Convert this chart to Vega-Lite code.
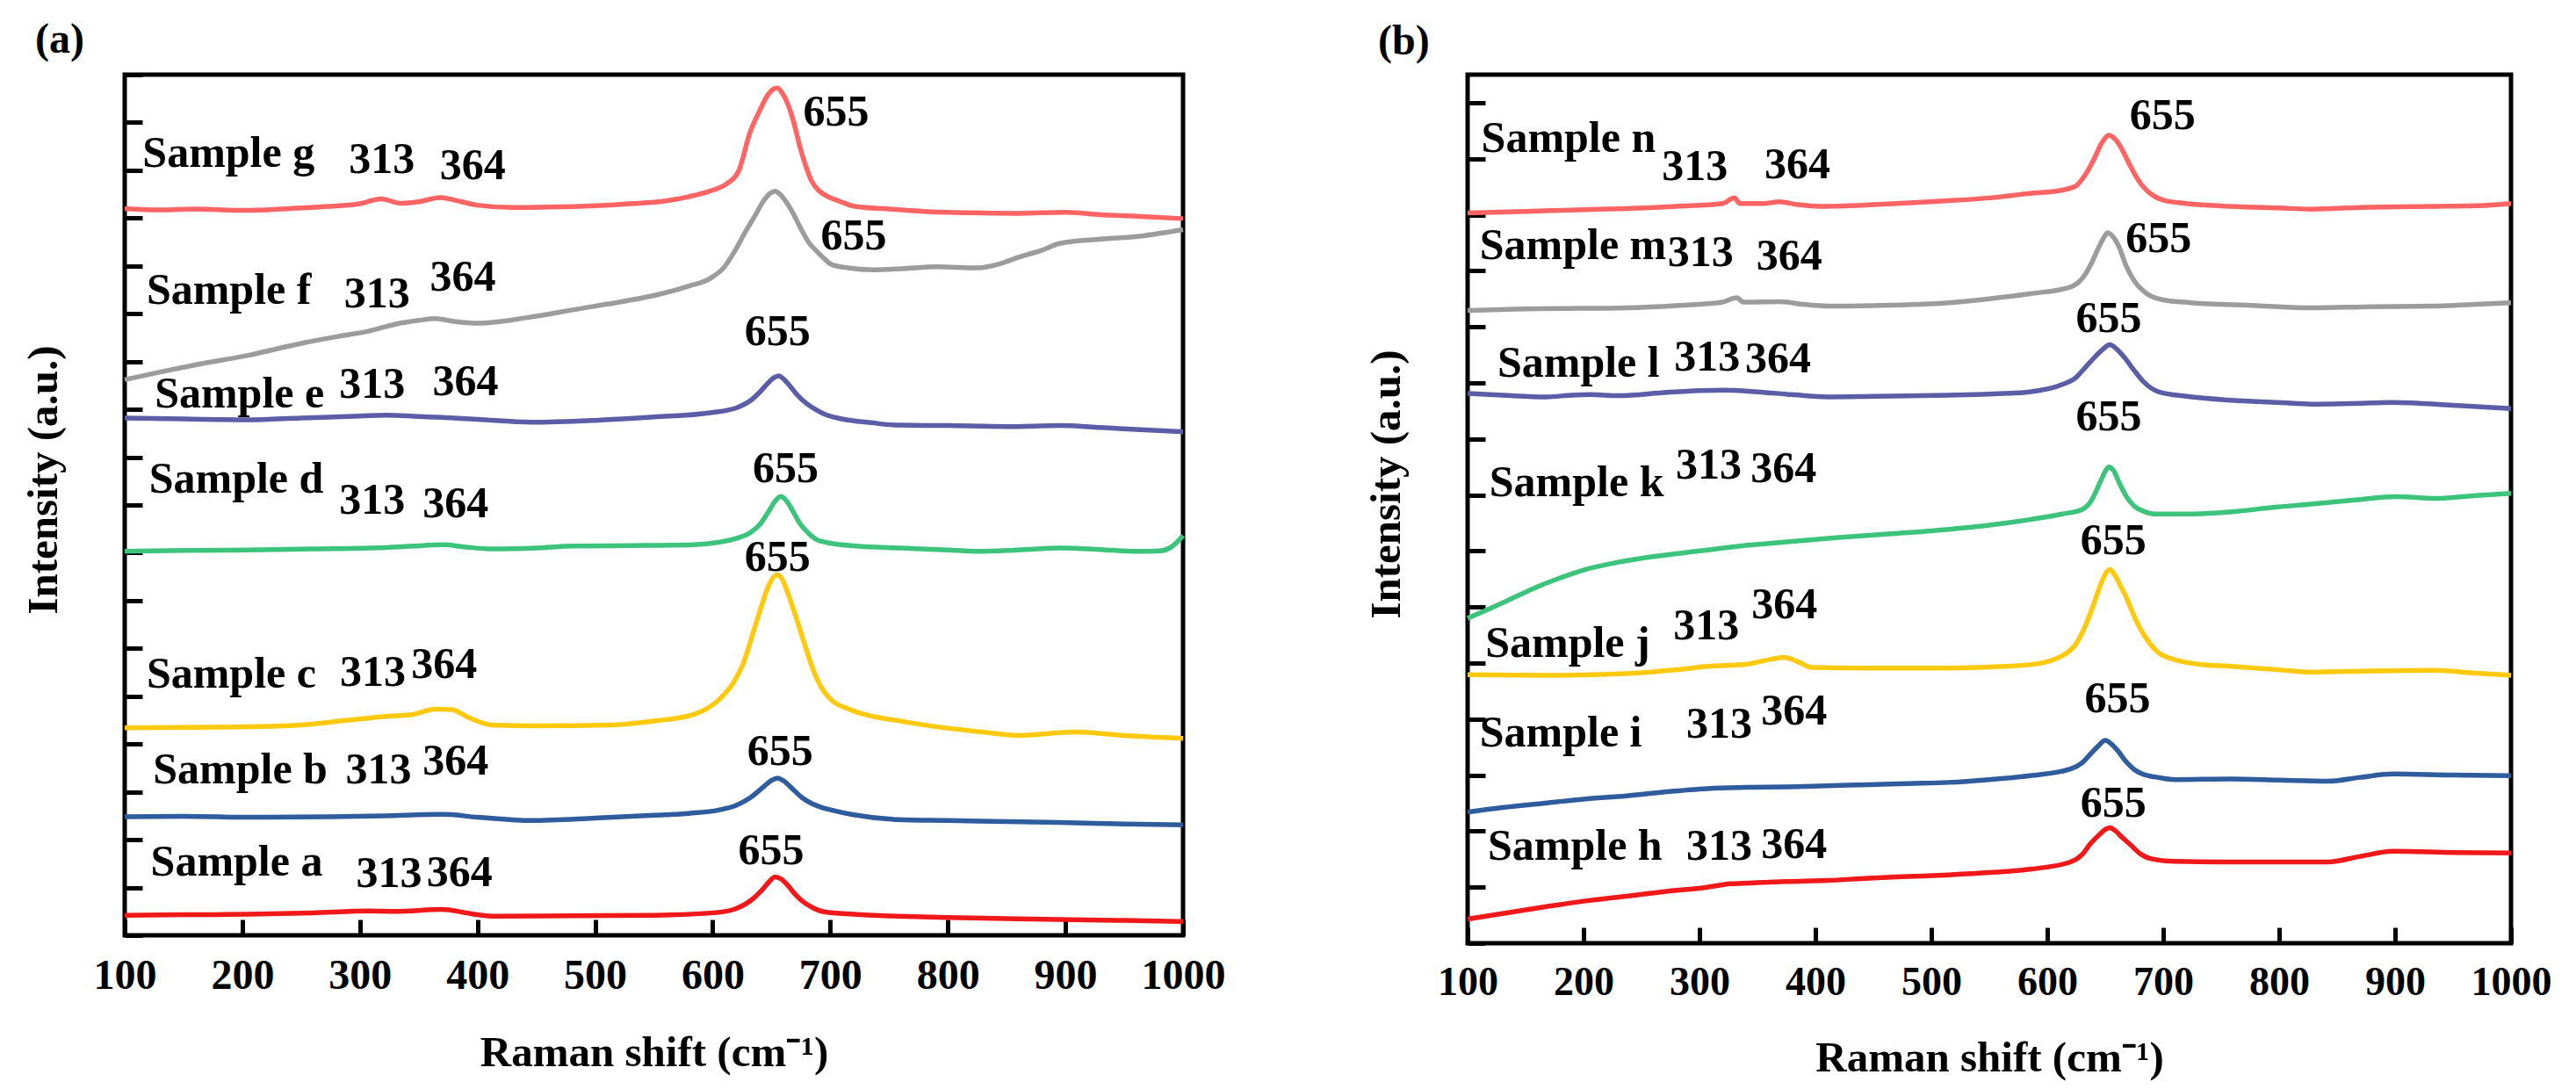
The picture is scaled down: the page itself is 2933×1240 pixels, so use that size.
{
"$schema": "https://vega.github.io/schema/vega-lite/v6.json",
"background": "white",
"padding": {"left": 23, "top": 19, "right": 0, "bottom": 0},
"spacing": 154,
"config": {
  "view": {"stroke": "black", "strokeWidth": 5},
  "font": "Liberation Serif",
  "axisX": {"domain": false, "grid": false, "tickSize": -18, "tickWidth": 5, "tickColor": "black", "labelFont": "Liberation Serif", "labelFontWeight": "bold", "labelColor": "black", "labelPadding": 40, "labelFlush": false, "labelOverlap": false, "format": "d", "titleFont": "Liberation Serif", "titleFontWeight": "bold", "titleFontSize": 49, "titleColor": "black", "titlePadding": 39},
  "axisY": {"domain": false, "grid": false, "labels": false, "tickSize": -20, "tickWidth": 5, "tickColor": "black", "titleFont": "Liberation Serif", "titleFontWeight": "bold", "titleFontSize": 49, "titleColor": "black", "titlePadding": 65},
  "title": {"font": "Liberation Serif", "fontWeight": "bold", "fontSize": 48, "color": "black", "anchor": "start", "frame": "group", "dx": -102, "offset": 13}
},
"datasets": {
"curves": [
{"p":"a","s":"Sample g","x":100,"y":15.20},{"p":"a","s":"Sample g","x":130,"y":15.17},{"p":"a","s":"Sample g","x":160,"y":15.19},{"p":"a","s":"Sample g","x":200,"y":15.16},{"p":"a","s":"Sample g","x":240,"y":15.20},{"p":"a","s":"Sample g","x":270,"y":15.24},{"p":"a","s":"Sample g","x":300,"y":15.30},{"p":"a","s":"Sample g","x":318,"y":15.40},{"p":"a","s":"Sample g","x":335,"y":15.31},{"p":"a","s":"Sample g","x":350,"y":15.34},{"p":"a","s":"Sample g","x":368,"y":15.43},{"p":"a","s":"Sample g","x":385,"y":15.35},{"p":"a","s":"Sample g","x":400,"y":15.27},{"p":"a","s":"Sample g","x":430,"y":15.22},{"p":"a","s":"Sample g","x":460,"y":15.23},{"p":"a","s":"Sample g","x":500,"y":15.26},{"p":"a","s":"Sample g","x":530,"y":15.30},{"p":"a","s":"Sample g","x":560,"y":15.36},{"p":"a","s":"Sample g","x":580,"y":15.45},{"p":"a","s":"Sample g","x":598,"y":15.57},{"p":"a","s":"Sample g","x":612,"y":15.72},{"p":"a","s":"Sample g","x":622,"y":15.98},{"p":"a","s":"Sample g","x":632,"y":16.81},{"p":"a","s":"Sample g","x":640,"y":17.25},{"p":"a","s":"Sample g","x":646,"y":17.54},{"p":"a","s":"Sample g","x":651,"y":17.69},{"p":"a","s":"Sample g","x":655,"y":17.72},{"p":"a","s":"Sample g","x":659,"y":17.62},{"p":"a","s":"Sample g","x":664,"y":17.38},{"p":"a","s":"Sample g","x":669,"y":17.00},{"p":"a","s":"Sample g","x":674,"y":16.51},{"p":"a","s":"Sample g","x":679,"y":16.10},{"p":"a","s":"Sample g","x":684,"y":15.78},{"p":"a","s":"Sample g","x":690,"y":15.58},{"p":"a","s":"Sample g","x":695,"y":15.49},{"p":"a","s":"Sample g","x":708,"y":15.35},{"p":"a","s":"Sample g","x":722,"y":15.24},{"p":"a","s":"Sample g","x":750,"y":15.19},{"p":"a","s":"Sample g","x":780,"y":15.14},{"p":"a","s":"Sample g","x":820,"y":15.11},{"p":"a","s":"Sample g","x":860,"y":15.10},{"p":"a","s":"Sample g","x":900,"y":15.12},{"p":"a","s":"Sample g","x":930,"y":15.07},{"p":"a","s":"Sample g","x":960,"y":15.04},{"p":"a","s":"Sample g","x":1000,"y":14.99},
{"p":"a","s":"Sample f","x":100,"y":11.62},{"p":"a","s":"Sample f","x":130,"y":11.78},{"p":"a","s":"Sample f","x":160,"y":11.93},{"p":"a","s":"Sample f","x":205,"y":12.13},{"p":"a","s":"Sample f","x":250,"y":12.38},{"p":"a","s":"Sample f","x":280,"y":12.52},{"p":"a","s":"Sample f","x":308,"y":12.64},{"p":"a","s":"Sample f","x":330,"y":12.78},{"p":"a","s":"Sample f","x":350,"y":12.86},{"p":"a","s":"Sample f","x":364,"y":12.90},{"p":"a","s":"Sample f","x":380,"y":12.84},{"p":"a","s":"Sample f","x":400,"y":12.80},{"p":"a","s":"Sample f","x":420,"y":12.84},{"p":"a","s":"Sample f","x":450,"y":12.95},{"p":"a","s":"Sample f","x":481,"y":13.08},{"p":"a","s":"Sample f","x":510,"y":13.20},{"p":"a","s":"Sample f","x":550,"y":13.38},{"p":"a","s":"Sample f","x":580,"y":13.58},{"p":"a","s":"Sample f","x":598,"y":13.74},{"p":"a","s":"Sample f","x":610,"y":13.98},{"p":"a","s":"Sample f","x":619,"y":14.32},{"p":"a","s":"Sample f","x":628,"y":14.72},{"p":"a","s":"Sample f","x":636,"y":15.05},{"p":"a","s":"Sample f","x":643,"y":15.35},{"p":"a","s":"Sample f","x":649,"y":15.52},{"p":"a","s":"Sample f","x":653,"y":15.56},{"p":"a","s":"Sample f","x":658,"y":15.48},{"p":"a","s":"Sample f","x":663,"y":15.32},{"p":"a","s":"Sample f","x":668,"y":15.12},{"p":"a","s":"Sample f","x":675,"y":14.78},{"p":"a","s":"Sample f","x":682,"y":14.48},{"p":"a","s":"Sample f","x":688,"y":14.32},{"p":"a","s":"Sample f","x":695,"y":14.15},{"p":"a","s":"Sample f","x":701,"y":14.03},{"p":"a","s":"Sample f","x":715,"y":13.96},{"p":"a","s":"Sample f","x":736,"y":13.92},{"p":"a","s":"Sample f","x":760,"y":13.94},{"p":"a","s":"Sample f","x":791,"y":13.98},{"p":"a","s":"Sample f","x":826,"y":13.96},{"p":"a","s":"Sample f","x":845,"y":14.05},{"p":"a","s":"Sample f","x":860,"y":14.18},{"p":"a","s":"Sample f","x":880,"y":14.33},{"p":"a","s":"Sample f","x":895,"y":14.47},{"p":"a","s":"Sample f","x":930,"y":14.56},{"p":"a","s":"Sample f","x":963,"y":14.62},{"p":"a","s":"Sample f","x":985,"y":14.70},{"p":"a","s":"Sample f","x":1000,"y":14.76},
{"p":"a","s":"Sample e","x":100,"y":10.82},{"p":"a","s":"Sample e","x":150,"y":10.80},{"p":"a","s":"Sample e","x":205,"y":10.78},{"p":"a","s":"Sample e","x":250,"y":10.82},{"p":"a","s":"Sample e","x":300,"y":10.86},{"p":"a","s":"Sample e","x":322,"y":10.88},{"p":"a","s":"Sample e","x":350,"y":10.85},{"p":"a","s":"Sample e","x":370,"y":10.83},{"p":"a","s":"Sample e","x":400,"y":10.79},{"p":"a","s":"Sample e","x":446,"y":10.73},{"p":"a","s":"Sample e","x":500,"y":10.77},{"p":"a","s":"Sample e","x":550,"y":10.84},{"p":"a","s":"Sample e","x":598,"y":10.93},{"p":"a","s":"Sample e","x":620,"y":11.03},{"p":"a","s":"Sample e","x":632,"y":11.18},{"p":"a","s":"Sample e","x":640,"y":11.36},{"p":"a","s":"Sample e","x":647,"y":11.55},{"p":"a","s":"Sample e","x":652,"y":11.66},{"p":"a","s":"Sample e","x":656,"y":11.70},{"p":"a","s":"Sample e","x":661,"y":11.62},{"p":"a","s":"Sample e","x":666,"y":11.48},{"p":"a","s":"Sample e","x":672,"y":11.30},{"p":"a","s":"Sample e","x":680,"y":11.12},{"p":"a","s":"Sample e","x":688,"y":10.99},{"p":"a","s":"Sample e","x":695,"y":10.90},{"p":"a","s":"Sample e","x":710,"y":10.80},{"p":"a","s":"Sample e","x":735,"y":10.72},{"p":"a","s":"Sample e","x":757,"y":10.67},{"p":"a","s":"Sample e","x":800,"y":10.66},{"p":"a","s":"Sample e","x":850,"y":10.64},{"p":"a","s":"Sample e","x":895,"y":10.66},{"p":"a","s":"Sample e","x":930,"y":10.62},{"p":"a","s":"Sample e","x":960,"y":10.58},{"p":"a","s":"Sample e","x":1000,"y":10.53},
{"p":"a","s":"Sample d","x":100,"y":8.03},{"p":"a","s":"Sample d","x":150,"y":8.05},{"p":"a","s":"Sample d","x":205,"y":8.06},{"p":"a","s":"Sample d","x":260,"y":8.08},{"p":"a","s":"Sample d","x":322,"y":8.11},{"p":"a","s":"Sample d","x":345,"y":8.14},{"p":"a","s":"Sample d","x":370,"y":8.17},{"p":"a","s":"Sample d","x":390,"y":8.12},{"p":"a","s":"Sample d","x":412,"y":8.08},{"p":"a","s":"Sample d","x":450,"y":8.10},{"p":"a","s":"Sample d","x":481,"y":8.14},{"p":"a","s":"Sample d","x":530,"y":8.15},{"p":"a","s":"Sample d","x":584,"y":8.17},{"p":"a","s":"Sample d","x":605,"y":8.22},{"p":"a","s":"Sample d","x":620,"y":8.30},{"p":"a","s":"Sample d","x":632,"y":8.42},{"p":"a","s":"Sample d","x":641,"y":8.62},{"p":"a","s":"Sample d","x":648,"y":8.88},{"p":"a","s":"Sample d","x":653,"y":9.08},{"p":"a","s":"Sample d","x":658,"y":9.18},{"p":"a","s":"Sample d","x":663,"y":9.08},{"p":"a","s":"Sample d","x":668,"y":8.88},{"p":"a","s":"Sample d","x":674,"y":8.62},{"p":"a","s":"Sample d","x":681,"y":8.42},{"p":"a","s":"Sample d","x":688,"y":8.28},{"p":"a","s":"Sample d","x":700,"y":8.20},{"p":"a","s":"Sample d","x":722,"y":8.14},{"p":"a","s":"Sample d","x":760,"y":8.10},{"p":"a","s":"Sample d","x":800,"y":8.06},{"p":"a","s":"Sample d","x":826,"y":8.03},{"p":"a","s":"Sample d","x":860,"y":8.06},{"p":"a","s":"Sample d","x":895,"y":8.10},{"p":"a","s":"Sample d","x":930,"y":8.07},{"p":"a","s":"Sample d","x":960,"y":8.03},{"p":"a","s":"Sample d","x":980,"y":8.04},{"p":"a","s":"Sample d","x":990,"y":8.12},{"p":"a","s":"Sample d","x":1000,"y":8.36},
{"p":"a","s":"Sample c","x":100,"y":4.34},{"p":"a","s":"Sample c","x":150,"y":4.35},{"p":"a","s":"Sample c","x":205,"y":4.36},{"p":"a","s":"Sample c","x":250,"y":4.40},{"p":"a","s":"Sample c","x":290,"y":4.50},{"p":"a","s":"Sample c","x":322,"y":4.58},{"p":"a","s":"Sample c","x":345,"y":4.62},{"p":"a","s":"Sample c","x":364,"y":4.73},{"p":"a","s":"Sample c","x":378,"y":4.72},{"p":"a","s":"Sample c","x":392,"y":4.56},{"p":"a","s":"Sample c","x":412,"y":4.40},{"p":"a","s":"Sample c","x":450,"y":4.38},{"p":"a","s":"Sample c","x":515,"y":4.40},{"p":"a","s":"Sample c","x":550,"y":4.48},{"p":"a","s":"Sample c","x":584,"y":4.62},{"p":"a","s":"Sample c","x":605,"y":4.92},{"p":"a","s":"Sample c","x":618,"y":5.30},{"p":"a","s":"Sample c","x":627,"y":5.75},{"p":"a","s":"Sample c","x":634,"y":6.30},{"p":"a","s":"Sample c","x":641,"y":6.85},{"p":"a","s":"Sample c","x":647,"y":7.28},{"p":"a","s":"Sample c","x":652,"y":7.50},{"p":"a","s":"Sample c","x":655,"y":7.54},{"p":"a","s":"Sample c","x":659,"y":7.45},{"p":"a","s":"Sample c","x":664,"y":7.15},{"p":"a","s":"Sample c","x":670,"y":6.72},{"p":"a","s":"Sample c","x":677,"y":6.18},{"p":"a","s":"Sample c","x":684,"y":5.65},{"p":"a","s":"Sample c","x":692,"y":5.20},{"p":"a","s":"Sample c","x":701,"y":4.92},{"p":"a","s":"Sample c","x":715,"y":4.74},{"p":"a","s":"Sample c","x":729,"y":4.62},{"p":"a","s":"Sample c","x":760,"y":4.48},{"p":"a","s":"Sample c","x":791,"y":4.36},{"p":"a","s":"Sample c","x":830,"y":4.25},{"p":"a","s":"Sample c","x":860,"y":4.18},{"p":"a","s":"Sample c","x":908,"y":4.25},{"p":"a","s":"Sample c","x":950,"y":4.18},{"p":"a","s":"Sample c","x":1000,"y":4.12},
{"p":"a","s":"Sample b","x":100,"y":2.48},{"p":"a","s":"Sample b","x":150,"y":2.49},{"p":"a","s":"Sample b","x":205,"y":2.47},{"p":"a","s":"Sample b","x":274,"y":2.48},{"p":"a","s":"Sample b","x":320,"y":2.50},{"p":"a","s":"Sample b","x":370,"y":2.53},{"p":"a","s":"Sample b","x":400,"y":2.47},{"p":"a","s":"Sample b","x":446,"y":2.40},{"p":"a","s":"Sample b","x":500,"y":2.45},{"p":"a","s":"Sample b","x":550,"y":2.51},{"p":"a","s":"Sample b","x":580,"y":2.55},{"p":"a","s":"Sample b","x":605,"y":2.62},{"p":"a","s":"Sample b","x":620,"y":2.72},{"p":"a","s":"Sample b","x":632,"y":2.88},{"p":"a","s":"Sample b","x":642,"y":3.08},{"p":"a","s":"Sample b","x":650,"y":3.24},{"p":"a","s":"Sample b","x":655,"y":3.29},{"p":"a","s":"Sample b","x":661,"y":3.22},{"p":"a","s":"Sample b","x":668,"y":3.06},{"p":"a","s":"Sample b","x":676,"y":2.88},{"p":"a","s":"Sample b","x":684,"y":2.76},{"p":"a","s":"Sample b","x":692,"y":2.68},{"p":"a","s":"Sample b","x":701,"y":2.62},{"p":"a","s":"Sample b","x":720,"y":2.52},{"p":"a","s":"Sample b","x":757,"y":2.42},{"p":"a","s":"Sample b","x":800,"y":2.40},{"p":"a","s":"Sample b","x":850,"y":2.38},{"p":"a","s":"Sample b","x":895,"y":2.36},{"p":"a","s":"Sample b","x":950,"y":2.33},{"p":"a","s":"Sample b","x":1000,"y":2.31},
{"p":"a","s":"Sample a","x":100,"y":0.42},{"p":"a","s":"Sample a","x":150,"y":0.43},{"p":"a","s":"Sample a","x":205,"y":0.44},{"p":"a","s":"Sample a","x":260,"y":0.47},{"p":"a","s":"Sample a","x":308,"y":0.51},{"p":"a","s":"Sample a","x":330,"y":0.50},{"p":"a","s":"Sample a","x":370,"y":0.54},{"p":"a","s":"Sample a","x":395,"y":0.45},{"p":"a","s":"Sample a","x":412,"y":0.40},{"p":"a","s":"Sample a","x":480,"y":0.41},{"p":"a","s":"Sample a","x":550,"y":0.42},{"p":"a","s":"Sample a","x":605,"y":0.48},{"p":"a","s":"Sample a","x":620,"y":0.56},{"p":"a","s":"Sample a","x":632,"y":0.72},{"p":"a","s":"Sample a","x":642,"y":0.95},{"p":"a","s":"Sample a","x":648,"y":1.12},{"p":"a","s":"Sample a","x":653,"y":1.22},{"p":"a","s":"Sample a","x":658,"y":1.18},{"p":"a","s":"Sample a","x":664,"y":1.04},{"p":"a","s":"Sample a","x":670,"y":0.86},{"p":"a","s":"Sample a","x":677,"y":0.70},{"p":"a","s":"Sample a","x":685,"y":0.58},{"p":"a","s":"Sample a","x":695,"y":0.49},{"p":"a","s":"Sample a","x":720,"y":0.44},{"p":"a","s":"Sample a","x":757,"y":0.40},{"p":"a","s":"Sample a","x":800,"y":0.37},{"p":"a","s":"Sample a","x":850,"y":0.35},{"p":"a","s":"Sample a","x":895,"y":0.33},{"p":"a","s":"Sample a","x":950,"y":0.31},{"p":"a","s":"Sample a","x":1000,"y":0.29},
{"p":"b","s":"Sample n","x":100,"y":13.03},{"p":"b","s":"Sample n","x":150,"y":13.06},{"p":"b","s":"Sample n","x":200,"y":13.09},{"p":"b","s":"Sample n","x":237,"y":13.11},{"p":"b","s":"Sample n","x":280,"y":13.15},{"p":"b","s":"Sample n","x":320,"y":13.20},{"p":"b","s":"Sample n","x":330,"y":13.30},{"p":"b","s":"Sample n","x":335,"y":13.20},{"p":"b","s":"Sample n","x":355,"y":13.20},{"p":"b","s":"Sample n","x":369,"y":13.23},{"p":"b","s":"Sample n","x":385,"y":13.18},{"p":"b","s":"Sample n","x":404,"y":13.15},{"p":"b","s":"Sample n","x":440,"y":13.17},{"p":"b","s":"Sample n","x":480,"y":13.21},{"p":"b","s":"Sample n","x":515,"y":13.25},{"p":"b","s":"Sample n","x":550,"y":13.30},{"p":"b","s":"Sample n","x":585,"y":13.38},{"p":"b","s":"Sample n","x":613,"y":13.44},{"p":"b","s":"Sample n","x":625,"y":13.52},{"p":"b","s":"Sample n","x":633,"y":13.72},{"p":"b","s":"Sample n","x":640,"y":13.98},{"p":"b","s":"Sample n","x":647,"y":14.28},{"p":"b","s":"Sample n","x":653,"y":14.42},{"p":"b","s":"Sample n","x":658,"y":14.36},{"p":"b","s":"Sample n","x":663,"y":14.22},{"p":"b","s":"Sample n","x":668,"y":14.02},{"p":"b","s":"Sample n","x":675,"y":13.74},{"p":"b","s":"Sample n","x":682,"y":13.52},{"p":"b","s":"Sample n","x":690,"y":13.36},{"p":"b","s":"Sample n","x":700,"y":13.26},{"p":"b","s":"Sample n","x":720,"y":13.20},{"p":"b","s":"Sample n","x":759,"y":13.15},{"p":"b","s":"Sample n","x":800,"y":13.12},{"p":"b","s":"Sample n","x":828,"y":13.10},{"p":"b","s":"Sample n","x":870,"y":13.13},{"p":"b","s":"Sample n","x":932,"y":13.15},{"p":"b","s":"Sample n","x":970,"y":13.16},{"p":"b","s":"Sample n","x":1000,"y":13.20},
{"p":"b","s":"Sample m","x":100,"y":11.29},{"p":"b","s":"Sample m","x":150,"y":11.32},{"p":"b","s":"Sample m","x":200,"y":11.33},{"p":"b","s":"Sample m","x":237,"y":11.34},{"p":"b","s":"Sample m","x":280,"y":11.38},{"p":"b","s":"Sample m","x":320,"y":11.44},{"p":"b","s":"Sample m","x":332,"y":11.52},{"p":"b","s":"Sample m","x":338,"y":11.44},{"p":"b","s":"Sample m","x":369,"y":11.45},{"p":"b","s":"Sample m","x":390,"y":11.40},{"p":"b","s":"Sample m","x":411,"y":11.37},{"p":"b","s":"Sample m","x":450,"y":11.38},{"p":"b","s":"Sample m","x":515,"y":11.43},{"p":"b","s":"Sample m","x":550,"y":11.50},{"p":"b","s":"Sample m","x":585,"y":11.59},{"p":"b","s":"Sample m","x":620,"y":11.71},{"p":"b","s":"Sample m","x":630,"y":11.86},{"p":"b","s":"Sample m","x":637,"y":12.09},{"p":"b","s":"Sample m","x":644,"y":12.40},{"p":"b","s":"Sample m","x":649,"y":12.60},{"p":"b","s":"Sample m","x":652,"y":12.68},{"p":"b","s":"Sample m","x":657,"y":12.60},{"p":"b","s":"Sample m","x":662,"y":12.42},{"p":"b","s":"Sample m","x":668,"y":12.09},{"p":"b","s":"Sample m","x":675,"y":11.82},{"p":"b","s":"Sample m","x":686,"y":11.59},{"p":"b","s":"Sample m","x":700,"y":11.48},{"p":"b","s":"Sample m","x":724,"y":11.43},{"p":"b","s":"Sample m","x":780,"y":11.38},{"p":"b","s":"Sample m","x":828,"y":11.34},{"p":"b","s":"Sample m","x":880,"y":11.36},{"p":"b","s":"Sample m","x":932,"y":11.37},{"p":"b","s":"Sample m","x":970,"y":11.40},{"p":"b","s":"Sample m","x":1000,"y":11.43},
{"p":"b","s":"Sample l","x":100,"y":9.81},{"p":"b","s":"Sample l","x":130,"y":9.78},{"p":"b","s":"Sample l","x":168,"y":9.75},{"p":"b","s":"Sample l","x":190,"y":9.78},{"p":"b","s":"Sample l","x":206,"y":9.79},{"p":"b","s":"Sample l","x":230,"y":9.77},{"p":"b","s":"Sample l","x":272,"y":9.83},{"p":"b","s":"Sample l","x":300,"y":9.86},{"p":"b","s":"Sample l","x":320,"y":9.87},{"p":"b","s":"Sample l","x":350,"y":9.84},{"p":"b","s":"Sample l","x":380,"y":9.79},{"p":"b","s":"Sample l","x":411,"y":9.75},{"p":"b","s":"Sample l","x":450,"y":9.76},{"p":"b","s":"Sample l","x":515,"y":9.78},{"p":"b","s":"Sample l","x":550,"y":9.80},{"p":"b","s":"Sample l","x":585,"y":9.84},{"p":"b","s":"Sample l","x":613,"y":9.97},{"p":"b","s":"Sample l","x":625,"y":10.10},{"p":"b","s":"Sample l","x":633,"y":10.28},{"p":"b","s":"Sample l","x":641,"y":10.46},{"p":"b","s":"Sample l","x":648,"y":10.60},{"p":"b","s":"Sample l","x":654,"y":10.68},{"p":"b","s":"Sample l","x":660,"y":10.60},{"p":"b","s":"Sample l","x":667,"y":10.44},{"p":"b","s":"Sample l","x":675,"y":10.22},{"p":"b","s":"Sample l","x":683,"y":10.02},{"p":"b","s":"Sample l","x":696,"y":9.84},{"p":"b","s":"Sample l","x":720,"y":9.76},{"p":"b","s":"Sample l","x":759,"y":9.69},{"p":"b","s":"Sample l","x":800,"y":9.65},{"p":"b","s":"Sample l","x":828,"y":9.62},{"p":"b","s":"Sample l","x":860,"y":9.63},{"p":"b","s":"Sample l","x":898,"y":9.65},{"p":"b","s":"Sample l","x":950,"y":9.60},{"p":"b","s":"Sample l","x":1000,"y":9.54},
{"p":"b","s":"Sample k","x":100,"y":5.80},{"p":"b","s":"Sample k","x":120,"y":5.98},{"p":"b","s":"Sample k","x":140,"y":6.17},{"p":"b","s":"Sample k","x":160,"y":6.36},{"p":"b","s":"Sample k","x":180,"y":6.52},{"p":"b","s":"Sample k","x":200,"y":6.66},{"p":"b","s":"Sample k","x":230,"y":6.80},{"p":"b","s":"Sample k","x":260,"y":6.90},{"p":"b","s":"Sample k","x":300,"y":7.00},{"p":"b","s":"Sample k","x":340,"y":7.10},{"p":"b","s":"Sample k","x":380,"y":7.17},{"p":"b","s":"Sample k","x":420,"y":7.24},{"p":"b","s":"Sample k","x":460,"y":7.30},{"p":"b","s":"Sample k","x":500,"y":7.36},{"p":"b","s":"Sample k","x":550,"y":7.46},{"p":"b","s":"Sample k","x":585,"y":7.56},{"p":"b","s":"Sample k","x":613,"y":7.66},{"p":"b","s":"Sample k","x":630,"y":7.74},{"p":"b","s":"Sample k","x":638,"y":7.90},{"p":"b","s":"Sample k","x":645,"y":8.20},{"p":"b","s":"Sample k","x":650,"y":8.42},{"p":"b","s":"Sample k","x":653,"y":8.50},{"p":"b","s":"Sample k","x":657,"y":8.44},{"p":"b","s":"Sample k","x":662,"y":8.22},{"p":"b","s":"Sample k","x":668,"y":7.98},{"p":"b","s":"Sample k","x":675,"y":7.80},{"p":"b","s":"Sample k","x":684,"y":7.70},{"p":"b","s":"Sample k","x":692,"y":7.66},{"p":"b","s":"Sample k","x":727,"y":7.66},{"p":"b","s":"Sample k","x":760,"y":7.70},{"p":"b","s":"Sample k","x":796,"y":7.78},{"p":"b","s":"Sample k","x":830,"y":7.84},{"p":"b","s":"Sample k","x":866,"y":7.91},{"p":"b","s":"Sample k","x":901,"y":7.97},{"p":"b","s":"Sample k","x":935,"y":7.94},{"p":"b","s":"Sample k","x":970,"y":7.99},{"p":"b","s":"Sample k","x":1000,"y":8.03},
{"p":"b","s":"Sample j","x":100,"y":4.79},{"p":"b","s":"Sample j","x":167,"y":4.78},{"p":"b","s":"Sample j","x":237,"y":4.81},{"p":"b","s":"Sample j","x":280,"y":4.88},{"p":"b","s":"Sample j","x":307,"y":4.94},{"p":"b","s":"Sample j","x":341,"y":4.98},{"p":"b","s":"Sample j","x":360,"y":5.06},{"p":"b","s":"Sample j","x":373,"y":5.10},{"p":"b","s":"Sample j","x":385,"y":5.02},{"p":"b","s":"Sample j","x":397,"y":4.92},{"p":"b","s":"Sample j","x":446,"y":4.91},{"p":"b","s":"Sample j","x":515,"y":4.91},{"p":"b","s":"Sample j","x":585,"y":4.97},{"p":"b","s":"Sample j","x":613,"y":5.13},{"p":"b","s":"Sample j","x":625,"y":5.35},{"p":"b","s":"Sample j","x":633,"y":5.67},{"p":"b","s":"Sample j","x":640,"y":6.05},{"p":"b","s":"Sample j","x":646,"y":6.40},{"p":"b","s":"Sample j","x":651,"y":6.62},{"p":"b","s":"Sample j","x":654,"y":6.67},{"p":"b","s":"Sample j","x":658,"y":6.58},{"p":"b","s":"Sample j","x":663,"y":6.38},{"p":"b","s":"Sample j","x":668,"y":6.18},{"p":"b","s":"Sample j","x":674,"y":5.88},{"p":"b","s":"Sample j","x":680,"y":5.62},{"p":"b","s":"Sample j","x":686,"y":5.42},{"p":"b","s":"Sample j","x":695,"y":5.20},{"p":"b","s":"Sample j","x":710,"y":5.06},{"p":"b","s":"Sample j","x":730,"y":4.98},{"p":"b","s":"Sample j","x":759,"y":4.94},{"p":"b","s":"Sample j","x":800,"y":4.88},{"p":"b","s":"Sample j","x":828,"y":4.84},{"p":"b","s":"Sample j","x":880,"y":4.86},{"p":"b","s":"Sample j","x":932,"y":4.87},{"p":"b","s":"Sample j","x":970,"y":4.82},{"p":"b","s":"Sample j","x":1000,"y":4.78},
{"p":"b","s":"Sample i","x":100,"y":2.34},{"p":"b","s":"Sample i","x":130,"y":2.42},{"p":"b","s":"Sample i","x":167,"y":2.50},{"p":"b","s":"Sample i","x":200,"y":2.57},{"p":"b","s":"Sample i","x":237,"y":2.63},{"p":"b","s":"Sample i","x":270,"y":2.70},{"p":"b","s":"Sample i","x":307,"y":2.76},{"p":"b","s":"Sample i","x":340,"y":2.78},{"p":"b","s":"Sample i","x":376,"y":2.79},{"p":"b","s":"Sample i","x":410,"y":2.81},{"p":"b","s":"Sample i","x":446,"y":2.83},{"p":"b","s":"Sample i","x":480,"y":2.85},{"p":"b","s":"Sample i","x":515,"y":2.87},{"p":"b","s":"Sample i","x":550,"y":2.92},{"p":"b","s":"Sample i","x":585,"y":2.99},{"p":"b","s":"Sample i","x":620,"y":3.11},{"p":"b","s":"Sample i","x":630,"y":3.22},{"p":"b","s":"Sample i","x":637,"y":3.37},{"p":"b","s":"Sample i","x":644,"y":3.52},{"p":"b","s":"Sample i","x":650,"y":3.62},{"p":"b","s":"Sample i","x":655,"y":3.56},{"p":"b","s":"Sample i","x":661,"y":3.43},{"p":"b","s":"Sample i","x":668,"y":3.24},{"p":"b","s":"Sample i","x":675,"y":3.10},{"p":"b","s":"Sample i","x":682,"y":3.02},{"p":"b","s":"Sample i","x":695,"y":2.96},{"p":"b","s":"Sample i","x":710,"y":2.92},{"p":"b","s":"Sample i","x":759,"y":2.93},{"p":"b","s":"Sample i","x":800,"y":2.91},{"p":"b","s":"Sample i","x":842,"y":2.89},{"p":"b","s":"Sample i","x":870,"y":2.96},{"p":"b","s":"Sample i","x":898,"y":3.02},{"p":"b","s":"Sample i","x":950,"y":3.00},{"p":"b","s":"Sample i","x":1000,"y":2.99},
{"p":"b","s":"Sample h","x":100,"y":0.43},{"p":"b","s":"Sample h","x":130,"y":0.53},{"p":"b","s":"Sample h","x":167,"y":0.65},{"p":"b","s":"Sample h","x":200,"y":0.75},{"p":"b","s":"Sample h","x":237,"y":0.84},{"p":"b","s":"Sample h","x":270,"y":0.92},{"p":"b","s":"Sample h","x":307,"y":1.00},{"p":"b","s":"Sample h","x":327,"y":1.06},{"p":"b","s":"Sample h","x":350,"y":1.08},{"p":"b","s":"Sample h","x":376,"y":1.10},{"p":"b","s":"Sample h","x":410,"y":1.12},{"p":"b","s":"Sample h","x":446,"y":1.16},{"p":"b","s":"Sample h","x":480,"y":1.19},{"p":"b","s":"Sample h","x":515,"y":1.22},{"p":"b","s":"Sample h","x":550,"y":1.26},{"p":"b","s":"Sample h","x":585,"y":1.32},{"p":"b","s":"Sample h","x":620,"y":1.45},{"p":"b","s":"Sample h","x":630,"y":1.58},{"p":"b","s":"Sample h","x":637,"y":1.77},{"p":"b","s":"Sample h","x":645,"y":1.94},{"p":"b","s":"Sample h","x":651,"y":2.04},{"p":"b","s":"Sample h","x":654,"y":2.06},{"p":"b","s":"Sample h","x":659,"y":2.00},{"p":"b","s":"Sample h","x":665,"y":1.88},{"p":"b","s":"Sample h","x":671,"y":1.77},{"p":"b","s":"Sample h","x":680,"y":1.60},{"p":"b","s":"Sample h","x":689,"y":1.51},{"p":"b","s":"Sample h","x":710,"y":1.46},{"p":"b","s":"Sample h","x":750,"y":1.45},{"p":"b","s":"Sample h","x":793,"y":1.45},{"p":"b","s":"Sample h","x":842,"y":1.45},{"p":"b","s":"Sample h","x":870,"y":1.55},{"p":"b","s":"Sample h","x":898,"y":1.64},{"p":"b","s":"Sample h","x":950,"y":1.62},{"p":"b","s":"Sample h","x":1000,"y":1.61}
],
"labels": [
{"p":"a","k":"name","x":115.2,"y":16.35,"t":"Sample g"},{"p":"a","k":"name","x":118.6,"y":13.48,"t":"Sample f"},{"p":"a","k":"name","x":125.5,"y":11.32,"t":"Sample e"},{"p":"a","k":"name","x":120.7,"y":9.53,"t":"Sample d"},{"p":"a","k":"name","x":118.6,"y":5.46,"t":"Sample c"},{"p":"a","k":"name","x":124.1,"y":3.46,"t":"Sample b"},{"p":"a","k":"name","x":122.1,"y":1.53,"t":"Sample a"},
{"p":"a","k":"num","x":704.9,"y":17.21,"t":"655"},{"p":"a","k":"num","x":318.6,"y":16.22,"t":"313"},{"p":"a","k":"num","x":395.9,"y":16.09,"t":"364"},
{"p":"a","k":"num","x":720,"y":14.62,"t":"655"},{"p":"a","k":"num","x":314.5,"y":13.40,"t":"313"},{"p":"a","k":"num","x":387.6,"y":13.76,"t":"364"},
{"p":"a","k":"num","x":655.2,"y":12.61,"t":"655"},{"p":"a","k":"num","x":310.4,"y":11.51,"t":"313"},{"p":"a","k":"num","x":389.7,"y":11.57,"t":"364"},
{"p":"a","k":"num","x":662.1,"y":9.75,"t":"655"},{"p":"a","k":"num","x":310.4,"y":9.09,"t":"313"},{"p":"a","k":"num","x":381.4,"y":9.02,"t":"364"},
{"p":"a","k":"num","x":655.2,"y":7.90,"t":"655"},{"p":"a","k":"num","x":311,"y":5.49,"t":"313"},{"p":"a","k":"num","x":371.7,"y":5.66,"t":"364"},
{"p":"a","k":"num","x":657.3,"y":3.83,"t":"655"},{"p":"a","k":"num","x":315.9,"y":3.46,"t":"313"},{"p":"a","k":"num","x":381.4,"y":3.64,"t":"364"},
{"p":"a","k":"num","x":649.7,"y":1.76,"t":"655"},{"p":"a","k":"num","x":324.8,"y":1.28,"t":"313"},{"p":"a","k":"num","x":384.8,"y":1.31,"t":"364"},
{"p":"b","k":"name","x":111.8,"y":14.36,"t":"Sample n"},{"p":"b","k":"name","x":110.4,"y":12.45,"t":"Sample m"},{"p":"b","k":"name","x":125.7,"y":10.34,"t":"Sample l"},{"p":"b","k":"name","x":118.8,"y":8.21,"t":"Sample k"},{"p":"b","k":"name","x":115.3,"y":5.34,"t":"Sample j"},{"p":"b","k":"name","x":110.4,"y":3.74,"t":"Sample i"},{"p":"b","k":"name","x":117.4,"y":1.72,"t":"Sample h"},
{"p":"b","k":"num","x":699.5,"y":14.77,"t":"655"},{"p":"b","k":"num","x":296,"y":13.85,"t":"313"},{"p":"b","k":"num","x":384.5,"y":13.88,"t":"364"},
{"p":"b","k":"num","x":696,"y":12.57,"t":"655"},{"p":"b","k":"num","x":301,"y":12.32,"t":"313"},{"p":"b","k":"num","x":377.5,"y":12.26,"t":"364"},
{"p":"b","k":"num","x":653,"y":11.14,"t":"655"},{"p":"b","k":"num","x":306.6,"y":10.45,"t":"313"},{"p":"b","k":"num","x":367.8,"y":10.42,"t":"364"},
{"p":"b","k":"num","x":653,"y":9.39,"t":"655"},{"p":"b","k":"num","x":308,"y":8.52,"t":"313"},{"p":"b","k":"num","x":372.6,"y":8.46,"t":"364"},
{"p":"b","k":"num","x":657,"y":7.18,"t":"655"},{"p":"b","k":"num","x":305.9,"y":5.66,"t":"313"},{"p":"b","k":"num","x":373.3,"y":6.04,"t":"364"},
{"p":"b","k":"num","x":660.6,"y":4.35,"t":"655"},{"p":"b","k":"num","x":317,"y":3.90,"t":"313"},{"p":"b","k":"num","x":381.7,"y":4.14,"t":"364"},
{"p":"b","k":"num","x":657,"y":2.49,"t":"655"},{"p":"b","k":"num","x":317,"y":1.72,"t":"313"},{"p":"b","k":"num","x":381.7,"y":1.76,"t":"364"}
]
},
"hconcat": [
{
  "title": {"text": "(a)"},
  "width": 1205, "height": 980,
  "layer": [
    {"data": {"name": "curves"}, "transform": [{"filter": "datum.p == 'a'"}],
     "mark": {"type": "line", "strokeWidth": 5.5, "interpolate": "monotone"},
     "encoding": {
       "x": {"field": "x", "type": "quantitative", "scale": {"domain": [100, 1000], "nice": false, "zero": false}, "axis": {"values": [100,200,300,400,500,600,700,800,900,1000], "labelFontSize": 48, "title": "Raman shift (cm⁻¹)"}},
       "y": {"field": "y", "type": "quantitative", "scale": {"domain": [0, 18], "nice": false, "zero": false}, "axis": {"values": [0,1,2,3,4,5,6,7,8,9,10,11,12,13,14,15,16,17,18], "title": "Intensity (a.u.)", "titleY": 461}},
       "color": {"field": "s", "type": "nominal", "legend": null, "scale": {"domain": ["Sample a","Sample b","Sample c","Sample d","Sample e","Sample f","Sample g","Sample h","Sample i","Sample j","Sample k","Sample l","Sample m","Sample n"], "range": ["#F01818","#2E5C9C","#FFC90E","#3CC47C","#5B5EA6","#9C9C9C","#FF6464","#F01818","#2E5C9C","#FFC90E","#3CC47C","#5B5EA6","#9C9C9C","#FF6464"]}}
     }},
    {"data": {"name": "labels"}, "transform": [{"filter": "datum.p == 'a' && datum.k == 'name'"}],
     "mark": {"type": "text", "font": "Liberation Serif", "fontWeight": "bold", "fontSize": 50, "align": "left", "baseline": "middle", "color": "black"},
     "encoding": {"x": {"field": "x", "type": "quantitative"}, "y": {"field": "y", "type": "quantitative"}, "text": {"field": "t"}}},
    {"data": {"name": "labels"}, "transform": [{"filter": "datum.p == 'a' && datum.k == 'num'"}],
     "mark": {"type": "text", "font": "Liberation Serif", "fontWeight": "bold", "fontSize": 50, "align": "center", "baseline": "middle", "color": "black"},
     "encoding": {"x": {"field": "x", "type": "quantitative"}, "y": {"field": "y", "type": "quantitative"}, "text": {"field": "t"}}}
  ]
},
{
  "title": {"text": "(b)"},
  "width": 1188, "height": 989,
  "layer": [
    {"data": {"name": "curves"}, "transform": [{"filter": "datum.p == 'b'"}],
     "mark": {"type": "line", "strokeWidth": 5.5, "interpolate": "monotone"},
     "encoding": {
       "x": {"field": "x", "type": "quantitative", "scale": {"domain": [100, 1000], "nice": false, "zero": false}, "axis": {"values": [100,200,300,400,500,600,700,800,900,1000], "labelFontSize": 46, "title": "Raman shift (cm⁻¹)"}},
       "y": {"field": "y", "type": "quantitative", "scale": {"domain": [0, 15.5], "nice": false, "zero": false}, "axis": {"values": [0,1,2,3,4,5,6,7,8,9,10,11,12,13,14,15], "title": "Intensity (a.u.)", "titleY": 466}},
       "color": {"field": "s", "type": "nominal", "legend": null, "scale": {"domain": ["Sample a","Sample b","Sample c","Sample d","Sample e","Sample f","Sample g","Sample h","Sample i","Sample j","Sample k","Sample l","Sample m","Sample n"], "range": ["#F01818","#2E5C9C","#FFC90E","#3CC47C","#5B5EA6","#9C9C9C","#FF6464","#F01818","#2E5C9C","#FFC90E","#3CC47C","#5B5EA6","#9C9C9C","#FF6464"]}}
     }},
    {"data": {"name": "labels"}, "transform": [{"filter": "datum.p == 'b' && datum.k == 'name'"}],
     "mark": {"type": "text", "font": "Liberation Serif", "fontWeight": "bold", "fontSize": 50, "align": "left", "baseline": "middle", "color": "black"},
     "encoding": {"x": {"field": "x", "type": "quantitative"}, "y": {"field": "y", "type": "quantitative"}, "text": {"field": "t"}}},
    {"data": {"name": "labels"}, "transform": [{"filter": "datum.p == 'b' && datum.k == 'num'"}],
     "mark": {"type": "text", "font": "Liberation Serif", "fontWeight": "bold", "fontSize": 50, "align": "center", "baseline": "middle", "color": "black"},
     "encoding": {"x": {"field": "x", "type": "quantitative"}, "y": {"field": "y", "type": "quantitative"}, "text": {"field": "t"}}}
  ]
}
]
}
